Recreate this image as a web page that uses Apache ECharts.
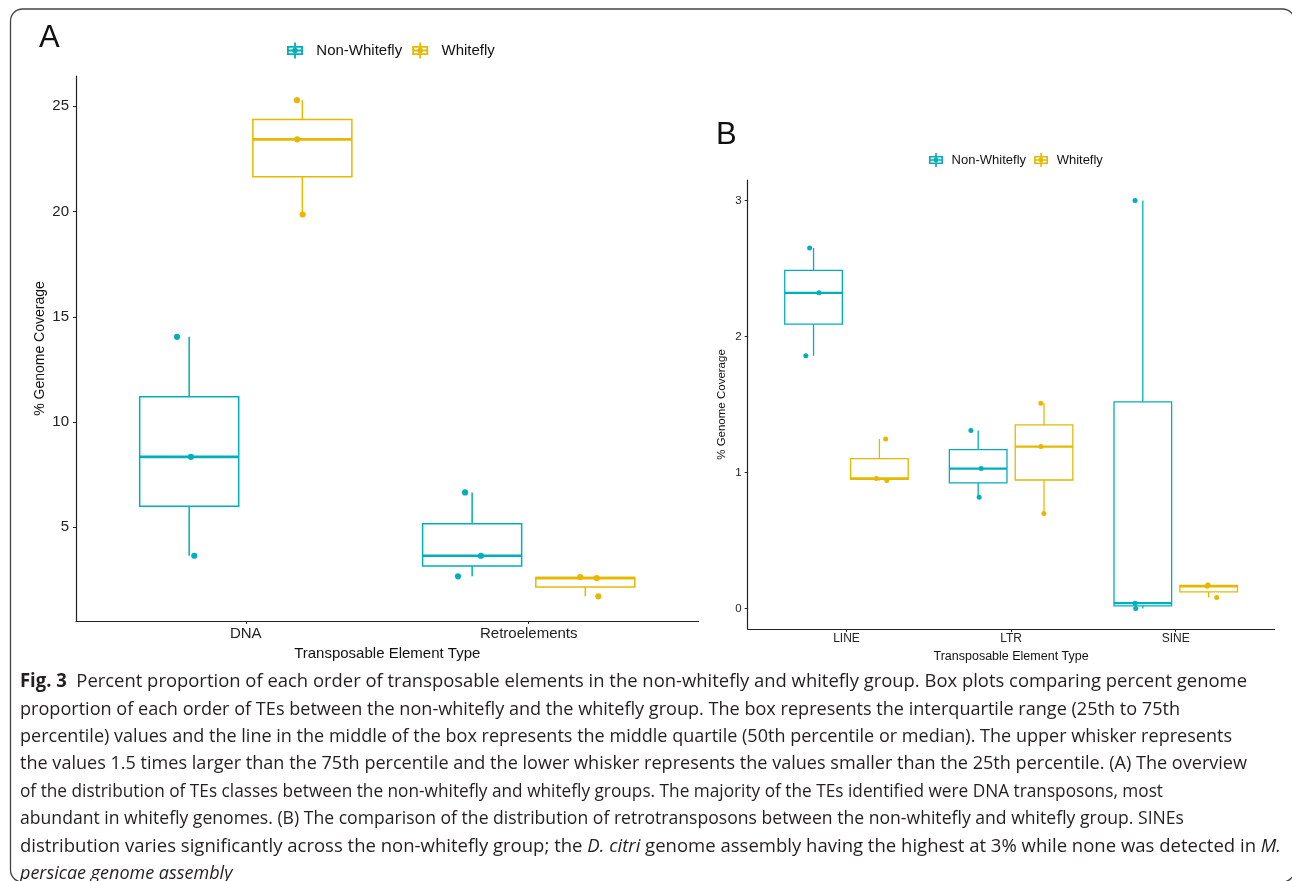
<!DOCTYPE html>
<html><head><meta charset="utf-8">
<script src="https://cdn.jsdelivr.net/npm/echarts@6/dist/echarts.min.js"></script>
<style>html,body{margin:0;padding:0;background:#fff}#c{width:1292px;height:881px}</style>
</head><body><div id="c"></div>
<script>
// ---------- data ----------
const groups = ['Non-Whitefly', 'Whitefly'];
const colors = ['#00AFBB', '#E7B800'];

// Panel A
const catsA = ['DNA', 'Retroelements'];
const ticksA = [5, 10, 15, 20, 25];
// box stats: [min, q1, median, q3, max]
const boxA_NW = [[3.65, 6.0, 8.35, 11.2, 14.05], [2.67, 3.16, 3.65, 5.17, 6.66]];
const boxA_W  = [[19.86, 21.65, 23.43, 24.37, 25.29], [1.72, 2.16, 2.59, 2.615, 2.64]];
const ptsA_NW = [[14.05, 8.35, 3.65], [6.66, 3.65, 2.67]];
const jitA_NW = [[-0.043, 0.006, 0.018], [-0.025, 0.031, -0.05]];
const ptsA_W  = [[25.29, 23.43, 19.86], [2.64, 2.59, 1.72]];
const jitA_W  = [[-0.019, -0.018, 0.001], [-0.018, 0.04, 0.046]];

// Panel B
const catsB = ['LINE', 'LTR', 'SINE'];
const ticksB = [0, 1, 2, 3];
const boxB_NW = [[1.858, 2.09, 2.321, 2.486, 2.651], [0.819, 0.924, 1.029, 1.169, 1.308], [0.0, 0.02, 0.04, 1.52, 3.0]];
const boxB_W  = [[0.941, 0.949, 0.956, 1.102, 1.247], [0.699, 0.945, 1.191, 1.35, 1.509], [0.081, 0.123, 0.164, 0.17, 0.176]];
const ptsB_NW = [[2.651, 2.321, 1.858], [1.308, 1.029, 0.819], [3.0, 0.04, 0.0]];
const jitB_NW = [[-0.024, 0.033, -0.047], [-0.044, 0.018, 0.006], [-0.047, -0.047, -0.043]];
const ptsB_W  = [[1.247, 0.956, 0.941], [1.509, 1.191, 0.699], [0.176, 0.164, 0.081]];
const jitB_W  = [[0.038, -0.019, 0.045], [-0.019, -0.019, -0.001], [-0.004, -0.008, 0.049]];

// Caption
const captionLines = [
  [['Fig. 3', 'b'], ['  Percent proportion of each order of transposable elements in the non-whitefly and whitefly group. Box plots comparing percent genome', '']],
  [['proportion of each order of TEs between the non-whitefly and the whitefly group. The box represents the interquartile range (25th to 75th', '']],
  [['percentile) values and the line in the middle of the box represents the middle quartile (50th percentile or median). The upper whisker represents', '']],
  [['the values 1.5 times larger than the 75th percentile and the lower whisker represents the values smaller than the 25th percentile. (A) The overview', '']],
  [['of the distribution of TEs classes between the non-whitefly and whitefly groups. The majority of the TEs identified were DNA transposons, most', '']],
  [['abundant in whitefly genomes. (B) The comparison of the distribution of retrotransposons between the non-whitefly and whitefly group. SINEs', '']],
  [['distribution varies significantly across the non-whitefly group; the ', ''], ['D. citri', 'i'], [' genome assembly having the highest at 3% while none was detected in ', ''], ['M.', 'i']],
  [['persicae genome assembly', 'i']]
];

// ---------- layout ----------
const DODGE = 0.2, HALFW = 0.175;
const FONT = '"Liberation Sans", Arial, sans-serif';
const CAPFONT = '"Open Sans", sans-serif';
const axisCol = '#222';

const legendIcon = 'path://M0,3H14V4.6H0Z M0,9.4H14V11H0Z M0,3H1.6V11H0Z M12.4,3H14V11H12.4Z M0,6.2H14V7.8H0Z M6.2,0H7.8V3H6.2Z M6.2,11H7.8V14H6.2Z M9.4,7A2.4,2.4 0 1 1 4.6,7A2.4,2.4 0 1 1 9.4,7Z';

function boxRender(dodge, color, lw, mlw) {
  return function (params, api) {
    const c = api.value(0) + dodge;
    const pMin = api.coord([c, api.value(1)]);
    const pQ1 = api.coord([c, api.value(2)]);
    const pQ3 = api.coord([c, api.value(4)]);
    const pMax = api.coord([c, api.value(5)]);
    const tl = api.coord([c - HALFW, api.value(4)]);
    const br = api.coord([c + HALFW, api.value(2)]);
    const ml = api.coord([c - HALFW, api.value(3)]);
    const mr = api.coord([c + HALFW, api.value(3)]);
    const st = { stroke: color, lineWidth: lw, fill: null };
    return {
      type: 'group', children: [
        { type: 'line', shape: { x1: pMax[0], y1: pMax[1], x2: pQ3[0], y2: pQ3[1] }, style: st },
        { type: 'line', shape: { x1: pQ1[0], y1: pQ1[1], x2: pMin[0], y2: pMin[1] }, style: st },
        { type: 'rect', shape: { x: tl[0], y: tl[1], width: br[0] - tl[0], height: br[1] - tl[1] }, style: { stroke: color, lineWidth: lw, fill: 'rgba(255,255,255,0)' } },
        { type: 'line', shape: { x1: ml[0], y1: ml[1], x2: mr[0], y2: mr[1] }, style: { stroke: color, lineWidth: mlw } }
      ]
    };
  };
}

function boxSeries(name, gi, boxes, dodge, color, lw, mlw) {
  return {
    type: 'custom', name: name, xAxisIndex: gi, yAxisIndex: gi,
    renderItem: boxRender(dodge, color, lw, mlw),
    encode: { x: 0, y: [1, 2, 3, 4, 5] },
    itemStyle: { color: color },
    data: boxes.map((b, i) => [i + 1].concat(b)), z: 2, silent: true
  };
}
function pointSeries(name, gi, pts, jit, dodge, color, size) {
  const data = [];
  pts.forEach((arr, i) => arr.forEach((v, k) => data.push([i + 1 + dodge + jit[i][k], v])));
  return {
    type: 'scatter', name: name, xAxisIndex: gi, yAxisIndex: gi,
    symbol: 'circle', symbolSize: size, itemStyle: { color: color, opacity: 1 },
    data: data, z: 3, silent: true
  };
}

function xAxis(gi, cats, fs, nfs, margin, nameGap) {
  return {
    type: 'value', gridIndex: gi, min: 0.4, max: cats.length + 0.6,
    name: 'Transposable Element Type', nameLocation: 'middle', nameGap: nameGap,
    nameTextStyle: { fontFamily: FONT, fontSize: nfs, color: '#111' },
    axisLine: { show: true, onZero: false, lineStyle: { color: axisCol, width: 1.1 } },
    axisTick: { show: true, length: 3, customValues: cats.map((c, i) => i + 1), lineStyle: { color: axisCol } },
    axisLabel: { customValues: cats.map((c, i) => i + 1), formatter: v => cats[Math.round(v) - 1], fontFamily: FONT, fontSize: fs, color: '#222', margin: margin },
    splitLine: { show: false }
  };
}
function yAxis(gi, min, max, ticks, fs, nfs, margin, nameGap) {
  return {
    type: 'value', gridIndex: gi, min: min, max: max,
    name: '% Genome Coverage', nameLocation: 'middle', nameGap: nameGap, nameRotate: 90,
    nameTextStyle: { fontFamily: FONT, fontSize: nfs, color: '#111' },
    axisLine: { show: true, onZero: false, lineStyle: { color: axisCol, width: 1.2 } },
    axisTick: { show: true, length: 3, customValues: ticks, lineStyle: { color: axisCol } },
    axisLabel: { customValues: ticks, fontFamily: FONT, fontSize: fs, color: '#222', margin: margin },
    splitLine: { show: false }
  };
}
function legend(left, top, fs, iw, gap, pad) {
  return {
    left: left, top: top, orient: 'horizontal', itemWidth: iw, itemHeight: iw, itemGap: gap,
    selectedMode: false, formatter: n => pad + n,
    textStyle: { fontFamily: FONT, fontSize: fs, color: '#111' },
    data: groups.map((g, i) => ({ name: g, icon: legendIcon, itemStyle: { color: colors[i], borderWidth: 0 } }))
  };
}

// caption graphics
const ctx = document.createElement('canvas').getContext('2d');
const CAPFS = 19;
const capEnds = [1247, 1180, 1232, 1247, 1163, 1184, 1281];
const capY = [681.7, 709.3, 736.7, 764, 791.7, 819, 846.7, 873.3];
function segFont(s) {
  return (s === 'i' ? 'italic ' : '') + (s === 'b' ? 'bold ' : '') + CAPFS + 'px ' + CAPFONT;
}
const rich = {
  n: { fontFamily: CAPFONT, fontSize: CAPFS, fill: '#231f20' },
  b: { fontFamily: CAPFONT, fontSize: CAPFS, fontWeight: 'bold', fill: '#231f20' },
  i: { fontFamily: CAPFONT, fontSize: CAPFS, fontStyle: 'italic', fill: '#231f20' }
};
const scales = [];
const capGraphics = captionLines.map((segs, li) => {
  let w = 0;
  segs.forEach(s => { ctx.font = segFont(s[1]); w += ctx.measureText(s[0]).width; });
  let sc;
  if (li < capEnds.length) { sc = (capEnds[li] - 20) / w; scales.push(sc); }
  else { sc = scales.reduce((a, b) => a + b, 0) / scales.length; }
  return {
    type: 'text', x: 20, y: capY[li], scaleX: sc,
    style: { text: segs.map(s => '{' + (s[1] || 'n') + '|' + s[0] + '}').join(''), rich: rich, verticalAlign: 'middle', align: 'left' }
  };
});

const chart = echarts.init(document.getElementById('c'), null, { renderer: 'canvas' });
chart.setOption({
  backgroundColor: '#fff',
  animation: false,
  grid: [
    { left: 76, top: 76, width: 622.5, height: 545 },
    { left: 747.7, top: 180, width: 526.8, height: 449 }
  ],
  legend: [legend(282, 37.5, 15, 16, 10, '  '), legend(924, 148, 13, 14, 8, ' ')],
  xAxis: [xAxis(0, catsA, 15, 15, 5, 17), xAxis(1, catsB, 12, 12.5, 4, 13)],
  yAxis: [yAxis(0, 0.55, 26.44, ticksA, 15, 14, 7, 29), yAxis(1, -0.15, 3.15, ticksB, 11.5, 11.5, 6, 20)],
  series: [
    boxSeries(groups[0], 0, boxA_NW, -DODGE, colors[0], 1.5, 2.7),
    boxSeries(groups[1], 0, boxA_W, DODGE, colors[1], 1.5, 2.7),
    pointSeries(groups[0], 0, ptsA_NW, jitA_NW, -DODGE, colors[0], 6.2),
    pointSeries(groups[1], 0, ptsA_W, jitA_W, DODGE, colors[1], 6.2),
    boxSeries(groups[0], 1, boxB_NW, -DODGE, colors[0], 1.3, 2.3),
    boxSeries(groups[1], 1, boxB_W, DODGE, colors[1], 1.3, 2.3),
    pointSeries(groups[0], 1, ptsB_NW, jitB_NW, -DODGE, colors[0], 5),
    pointSeries(groups[1], 1, ptsB_W, jitB_W, DODGE, colors[1], 5)
  ],
  graphic: [
    { type: 'rect', shape: { x: 10.5, y: 9, width: 1284, height: 873, r: 12 }, style: { fill: 'none', stroke: '#444', lineWidth: 1.3 }, silent: true },
    { type: 'text', x: 39, y: 38, style: { text: 'A', fontFamily: FONT, fontSize: 31, fill: '#111', verticalAlign: 'middle' } },
    { type: 'text', x: 716, y: 135.5, style: { text: 'B', fontFamily: FONT, fontSize: 31, fill: '#111', verticalAlign: 'middle' } }
  ].concat(capGraphics)
});
</script></body></html>
